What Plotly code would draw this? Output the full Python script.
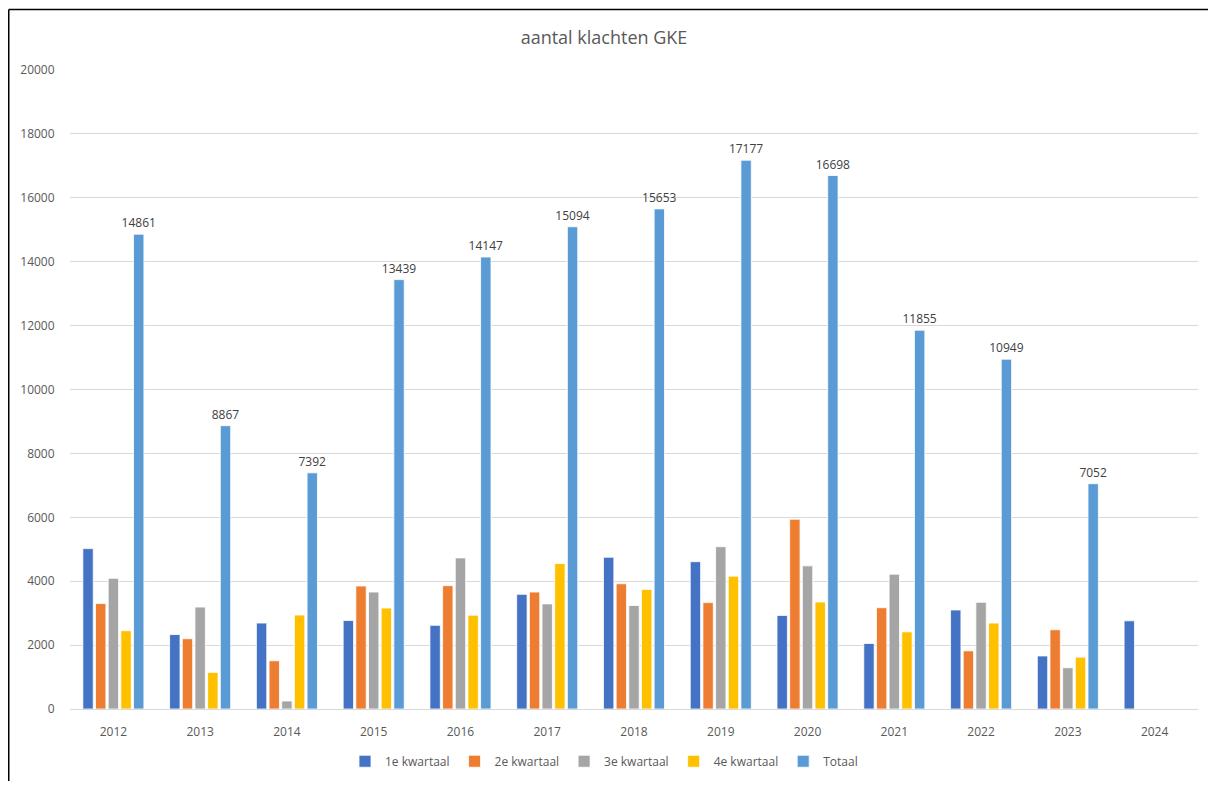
import plotly.graph_objects as go

years = ["2012", "2013", "2014", "2015", "2016", "2017", "2018", "2019", "2020", "2021", "2022", "2023", "2024"]
q1 = [5020, 2330, 2690, 2770, 2620, 3590, 4750, 4610, 2930, 2050, 3100, 1660, 2760]
q2 = [3300, 2200, 1510, 3850, 3860, 3660, 3920, 3330, 5940, 3170, 1820, 2480, None]
q3 = [4090, 3190, 250, 3660, 4730, 3290, 3240, 5080, 4480, 4220, 3340, 1290, None]
q4 = [2451, 1147, 2942, 3159, 2937, 4554, 3743, 4157, 3348, 2415, 2689, 1622, None]
totaal = [14861, 8867, 7392, 13439, 14147, 15094, 15653, 17177, 16698, 11855, 10949, 7052, None]
y_ticks = [0, 2000, 4000, 6000, 8000, 10000, 12000, 14000, 16000, 18000, 20000]

series = [
    ("1e kwartaal", q1, "#4472C4"),
    ("2e kwartaal", q2, "#ED7D31"),
    ("3e kwartaal", q3, "#A5A5A5"),
    ("4e kwartaal", q4, "#FFC000"),
]

fig = go.Figure()
for name, vals, col in series:
    fig.add_trace(go.Bar(x=years, y=vals, name=name, marker=dict(color=col, line=dict(color="white", width=0.8))))

fig.add_trace(go.Bar(
    x=years, y=totaal, name="Totaal",
    marker=dict(color="#5B9BD5", line=dict(color="white", width=0.8)),
    text=[str(v) if v is not None else "" for v in totaal],
    textposition="outside", cliponaxis=False, constraintext="none",
    textfont=dict(size=12, color="#404040", family="Open Sans"),
))

# page body has an 8px margin on every side: keep the page exactly 1216x794
W, H = 1200, 778
L, R, T, B = 62, 10, 62, 68
pw, ph = W - L - R, H - T - B

fig.update_layout(
    width=W, height=H,
    margin=dict(l=L, r=R, t=T, b=B),
    paper_bgcolor="white", plot_bgcolor="white",
    barmode="group", bargap=0.27, bargroupgap=0.18,
    font=dict(family="Open Sans", color="#595959", size=12),
    title=dict(text="aantal klachten GKE", x=(604 - 8) / W, xanchor="center", y=1 - 30 / H, yanchor="middle",
               font=dict(size=18, color="#595959", family="Open Sans")),
    legend=dict(orientation="h", x=(604 - 8 - L) / pw, xanchor="center", y=-53 / ph, yanchor="middle",
                font=dict(size=12, color="#595959"), traceorder="normal"),
    xaxis=dict(showgrid=False, showline=True, linecolor="#D9D9D9", linewidth=1,
               ticks="outside", ticklen=12, tickcolor="rgba(0,0,0,0)", tickfont=dict(size=12, color="#595959")),
    yaxis=dict(range=[0, 20000], tickvals=y_ticks, tickformat="d", showgrid=True, gridcolor="#D9D9D9", gridwidth=1,
               zeroline=False, ticks="outside", ticklen=12, tickcolor="rgba(0,0,0,0)",
               tickfont=dict(size=12, color="#595959")),
    shapes=[
        dict(type="line", xref="paper", yref="paper",
             x0=(0.75 - L) / pw, x1=(W + 5 - L) / pw, y0=(H - B - 0.75) / ph, y1=(H - B - 0.75) / ph,
             line=dict(color="black", width=1.5)),
        dict(type="line", xref="paper", yref="paper",
             x0=(0.75 - L) / pw, x1=(0.75 - L) / pw, y0=(H - B - 0.75) / ph, y1=-(B + 5) / ph,
             line=dict(color="black", width=1.5)),
    ],
)

fig.write_html("out.html")
